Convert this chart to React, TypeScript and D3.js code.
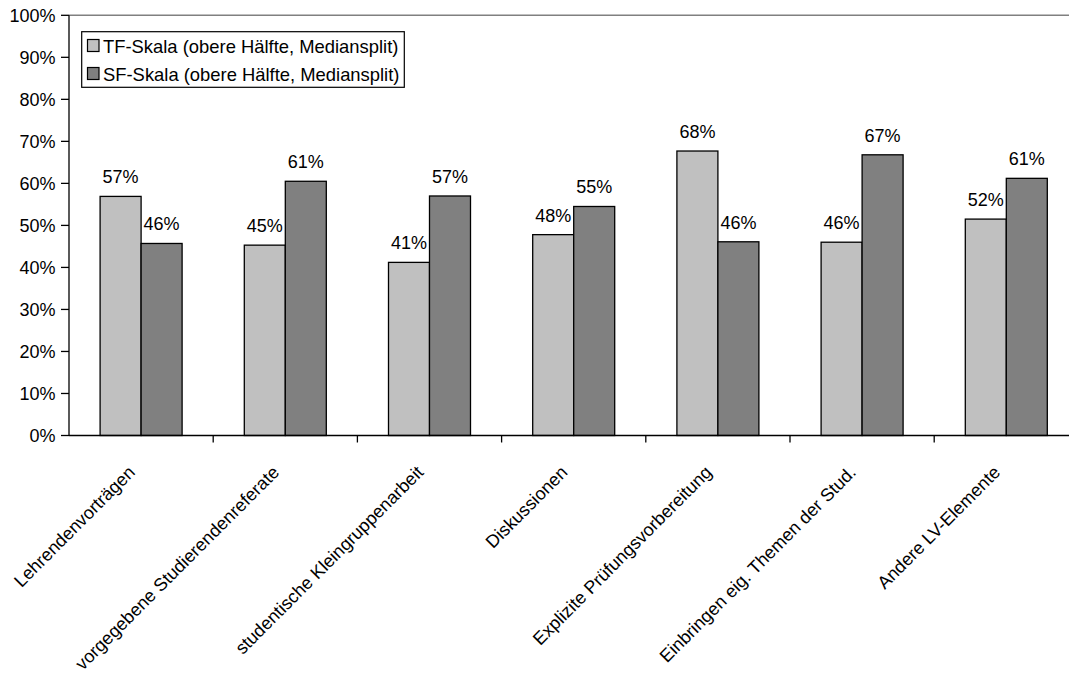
import React from "react";
import * as d3 from "d3";

const categories = [
  "Lehrendenvorträgen",
  "vorgegebene Studierendenreferate",
  "studentische Kleingruppenarbeit",
  "Diskussionen",
  "Explizite Prüfungsvorbereitung",
  "Einbringen eig. Themen der Stud.",
  "Andere LV-Elemente",
];
const seriesNames = [
  "TF-Skala (obere Hälfte, Mediansplit)",
  "SF-Skala (obere Hälfte, Mediansplit)",
];
const tfValues = [0.569, 0.453, 0.412, 0.478, 0.677, 0.46, 0.515];
const sfValues = [0.457, 0.605, 0.57, 0.545, 0.461, 0.668, 0.612];
const yTicks = [0, 0.1, 0.2, 0.3, 0.4, 0.5, 0.6, 0.7, 0.8, 0.9, 1.0];
const colors = ["#c0c0c0", "#808080"];

const W = 1069;
const H = 682;
const left = 69;
const top = 15.3;
const bottom = 435.5;
const step = 144.2;
const barW = 41;
const font = "Arial, 'Liberation Sans', Helvetica, sans-serif";
const fs = 18;

export default function App() {
  const x = d3
    .scaleBand<string>()
    .domain(categories)
    .range([left, left + step * categories.length])
    .padding(0);
  const y = d3.scaleLinear().domain([0, 1]).range([bottom, top]);
  const fmt = d3.format(".0%");
  const series = [tfValues, sfValues];

  return (
    <svg
      width={W}
      height={H}
      style={{ position: "absolute", left: 0, top: 0, background: "#fff" }}
      fontFamily={font}
    >
      <rect x={0} y={0} width={W} height={H} fill="#fff" />
      {/* plot area top border */}
      <line x1={left} x2={W} y1={y(1)} y2={y(1)} stroke="#808080" strokeWidth={1.5} />

      {/* bars with value labels */}
      {categories.map((c, i) => {
        const cx = (x(c) as number) + x.bandwidth() / 2;
        return series.map((vals, s) => {
          const v = vals[i];
          const bx = cx - barW + s * barW;
          return (
            <g key={c + s}>
              <rect
                x={bx}
                y={y(v)}
                width={barW}
                height={y(0) - y(v)}
                fill={colors[s]}
                stroke="#000"
                strokeWidth={1.3}
              />
              <text
                x={bx + barW / 2}
                y={y(v) - 13}
                textAnchor="middle"
                fontSize={fs}
                fill="#000"
              >
                {fmt(Math.round(v * 100) / 100)}
              </text>
            </g>
          );
        });
      })}

      {/* y axis */}
      <line x1={left} x2={left} y1={y(1)} y2={y(0)} stroke="#000" strokeWidth={1.3} />
      {yTicks.map((t) => (
        <g key={t}>
          <line x1={left - 8} x2={left} y1={y(t)} y2={y(t)} stroke="#000" strokeWidth={1.3} />
          <text x={55.5} y={y(t)} dy="0.36em" textAnchor="end" fontSize={fs} fill="#000">
            {fmt(t)}
          </text>
        </g>
      ))}

      {/* x axis */}
      <line x1={left} x2={W} y1={y(0)} y2={y(0)} stroke="#000" strokeWidth={1.3} />
      {categories.map((c) => {
        const bx = (x(c) as number) + x.bandwidth();
        return (
          <line key={"t" + c} x1={bx} x2={bx} y1={y(0)} y2={y(0) + 7} stroke="#000" strokeWidth={1.3} />
        );
      })}
      {categories.map((c) => {
        const cx = (x(c) as number) + x.bandwidth() / 2;
        return (
          <text
            key={"l" + c}
            transform={`translate(${cx - 5},${473.5}) rotate(-45)`}
            textAnchor="end"
            fontSize={18}
            fill="#000"
          >
            {c}
          </text>
        );
      })}

      {/* legend */}
      <rect x={81.7} y={31.7} width={322.6} height={55.6} fill="#fff" stroke="#000" strokeWidth={1.2} />
      {seriesNames.map((n, s) => (
        <g key={n}>
          <rect x={87.5} y={39.5 + s * 28} width={11.5} height={12} fill={colors[s]} stroke="#000" strokeWidth={1.2} />
          <text x={103} y={52.5 + s * 28} fontSize={18.4} fill="#000">
            {n}
          </text>
        </g>
      ))}
    </svg>
  );
}
